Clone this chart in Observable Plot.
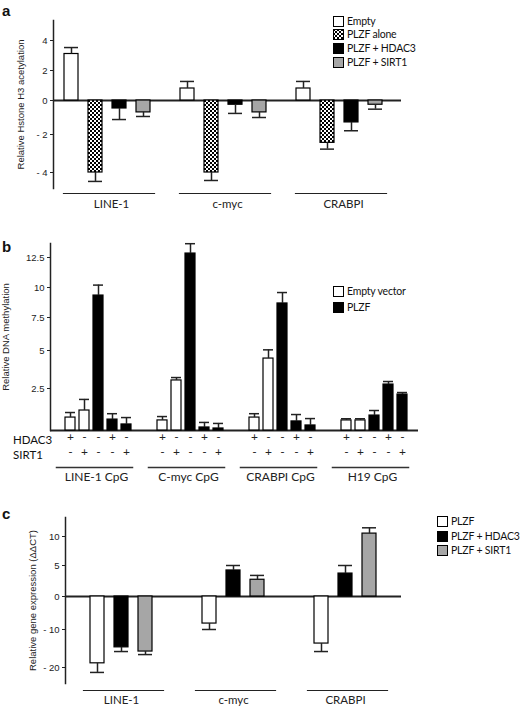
<!DOCTYPE html>
<html><head><meta charset="utf-8">
<script src="https://cdn.jsdelivr.net/npm/d3@7"></script>
<script src="https://cdn.jsdelivr.net/npm/@observablehq/plot@0.6"></script>
<style>
body{margin:0;background:#fff;}
#fig{position:relative;width:520px;height:709px;font-family:Lato,"Open Sans",sans-serif;color:#111;overflow:hidden;}
.panel{position:absolute;left:0;}
.abs{position:absolute;white-space:nowrap;z-index:2;line-height:1;}
.letter{font:bold 15px "Liberation Sans",Arial,sans-serif;}
.leg{font-size:10.5px;letter-spacing:-0.2px;display:flex;align-items:center;}
.rowlab{font-size:11.5px;}
</style>
</head><body>
<svg width="0" height="0" style="position:absolute"><defs>
<pattern id="checker" width="4" height="4" patternUnits="userSpaceOnUse">
<rect width="4" height="4" fill="#fff"/><rect width="2" height="2" fill="#000"/><rect x="2" y="2" width="2" height="2" fill="#000"/>
</pattern></defs></svg>
<div id="fig"></div>
<script>
// ---------- Panel a data ----------
const groupsA = ["LINE-1", "c-myc", "CRABPI"];
const seriesA = ["Empty", "PLZF alone", "PLZF + HDAC3", "PLZF + SIRT1"];
const valuesA = [[3.1, -4.0, -0.47, -0.7], [0.8, -4.0, -0.25, -0.7], [0.8, -2.44, -1.29, -0.25]];
const errEndA = [[3.53, -4.47, -1.12, -0.94], [1.27, -4.42, -0.76, -1.0], [1.27, -2.77, -1.78, -0.51]];
const ticksA = [-4, -2, 0, 2, 4];
const colorsA = ["#ffffff", "url(#checker)", "#000000", "#a6a6a6"];

// ---------- Panel b data ----------
const groupsB = ["LINE-1 CpG", "C-myc CpG", "CRABPI CpG", "H19 CpG"];
const seriesB = ["Empty vector", "PLZF"];
const condTypeB = ["Empty vector", "Empty vector", "PLZF", "PLZF", "PLZF"];
const hdac3B = ["+", "-", "-", "+", "-"];
const sirt1B = ["-", "+", "-", "-", "+"];
const valuesB = [[0.77, 1.19, 9.33, 0.65, 0.36], [0.6, 3.03, 12.83, 0.18, 0.12], [0.77, 4.47, 8.67, 0.54, 0.3], [0.6, 0.6, 0.89, 2.76, 2.14]];
const errEndB = [[1.07, 1.85, 10.2, 1.0, 0.77], [0.83, 3.22, 13.65, 0.48, 0.42], [1.0, 5.05, 9.58, 0.95, 0.71], [0.7, 0.7, 1.19, 2.96, 2.26]];
const ticksB = [2.5, 5, 7.5, 10, 12.5];
const colorsB = ["#ffffff", "#000000"];

// ---------- Panel c data ----------
const groupsC = ["LINE-1", "c-myc", "CRABPI"];
const seriesC = ["PLZF", "PLZF + HDAC3", "PLZF + SIRT1"];
const valuesC = [[-18.9, -14.7, -15.8], [-8.2, 4.2, 2.7], [-13.7, 3.7, 10.5]];
const errEndC = [[-21.3, -15.8, -16.6], [-10, 5.0, 3.4], [-15.8, 5.0, 11.5]];
const ticksC = [-20, -10, 0, 5, 10];
const colorsC = ["#ffffff", "#000000", "#a6a6a6"];

// The original axes have unevenly spaced ticks; these piecewise maps reproduce the tick layout
const warpA = d3.scaleLinear().domain([-4, -2, 0, 2, 4]).range([-72, -34, 0, 30, 60]);
const warpB = d3.scaleLinear().domain([0, 2.5, 5, 7.5, 10, 12.5]).range([0, 42, 80, 113, 143, 173]);
const warpC = d3.scaleLinear().domain([-20, -10, 0, 5, 10]).range([-71, -33, 0, 31, 60]);

// ---------- records ----------
const recA = [], recB = [], recC = [];
groupsA.forEach((g, i) => seriesA.forEach((s, j) => recA.push({group: g, series: s, value: valuesA[i][j], err: errEndA[i][j]})));
groupsB.forEach((g, i) => condTypeB.forEach((s, j) => recB.push({group: g, idx: j, series: s, hdac3: hdac3B[j], sirt1: sirt1B[j], value: valuesB[i][j], err: errEndB[i][j]})));
groupsC.forEach((g, i) => seriesC.forEach((s, j) => recC.push({group: g, series: s, value: valuesC[i][j], err: errEndC[i][j]})));

const fmtNeg = d => d < 0 ? "- " + Math.abs(d) : String(d);
const warpTickFormat = warp => v => fmtNeg(+warp.invert(v).toFixed(2));
const axisFont = "'Liberation Sans', Arial, sans-serif";
const fig = document.getElementById("fig");

function place(node, top) {
  const wrap = document.createElement("div");
  wrap.className = "panel";
  wrap.style.top = top + "px";
  wrap.appendChild(node);
  fig.appendChild(wrap);
}

function barMarks(rec, xField) {
  return [
    Plot.barY(rec, {fx: "group", x: xField, y1: 0, y2: "value", fill: "series", stroke: "#000", strokeWidth: 1.2}),
    Plot.ruleX(rec, {fx: "group", x: xField, y1: "value", y2: "err", strokeWidth: 1.5}),
    Plot.tickY(rec, {fx: "group", x: xField, y: "err", strokeWidth: 1.5})
  ];
}

// ---------- Panel a ----------
const plotA = Plot.plot({
  width: 520, height: 230,
  marginLeft: 53, marginRight: 119, marginTop: 20, marginBottom: 42,
  style: {fontFamily: axisFont, color: "#222"},
  fx: {domain: groupsA, paddingInner: 0, paddingOuter: 0},
  x: {domain: seriesA, paddingInner: 0.42, paddingOuter: 0.62, align: 0.37, axis: null},
  y: {transform: warpA, domain: [-88, 80]},
  color: {domain: seriesA, range: colorsA},
  marks: [
    Plot.ruleY([0], {strokeWidth: 2}),
    ...barMarks(recA, "series"),
    Plot.frame({anchor: "left", facetAnchor: "left", strokeWidth: 1.5}),
    Plot.frame({anchor: "bottom", dy: 5, insetLeft: 10, insetRight: 15, strokeWidth: 1.2}),
    Plot.axisY({ticks: ticksA.map(warpA), tickFormat: warpTickFormat(warpA), tickSize: 3, tickPadding: 3, fontSize: 9.5,
      label: "Relative Hstone H3 acetylation", labelAnchor: "center", labelArrow: "none", labelOffset: 36}),
    Plot.axisFx({anchor: "bottom", tickSize: 0, tickPadding: 11, fontSize: 11.5, fontFamily: "Lato, sans-serif", label: null})
  ]
});
place(plotA, 0);

// ---------- Panel b ----------
const plotB = Plot.plot({
  width: 520, height: 260,
  marginLeft: 50, marginRight: 102, marginTop: 13, marginBottom: 60,
  style: {fontFamily: axisFont, color: "#222"},
  fx: {domain: groupsB, paddingInner: 0, paddingOuter: 0},
  x: {domain: d3.range(condTypeB.length), paddingInner: 0.27, paddingOuter: 0.85, align: 0.6, axis: null},
  y: {transform: warpB, domain: [0, 187]},
  color: {domain: seriesB, range: colorsB},
  marks: [
    Plot.ruleY([0], {strokeWidth: 2}),
    ...barMarks(recB, "idx"),
    Plot.frame({anchor: "left", facetAnchor: "left", strokeWidth: 1.5}),
    Plot.frame({anchor: "bottom", dy: 37, insetLeft: 6, insetRight: 10, strokeWidth: 1.5, stroke: "#333"}),
    Plot.text(recB, {fx: "group", x: "idx", text: "hdac3", frameAnchor: "bottom", dy: 10, fontSize: 12, fontFamily: "Lato, sans-serif"}),
    Plot.text(recB, {fx: "group", x: "idx", text: "sirt1", frameAnchor: "bottom", dy: 25, fontSize: 12, fontFamily: "Lato, sans-serif"}),
    Plot.axisY({ticks: ticksB.map(warpB), tickFormat: warpTickFormat(warpB), tickSize: 3, tickPadding: 3, fontSize: 9.5,
      label: "Relative DNA methylation", labelAnchor: "center", labelArrow: "none", labelOffset: 48}),
    Plot.axisFx({anchor: "bottom", tickSize: 0, tickPadding: 42, fontSize: 12, fontFamily: "Lato, sans-serif", label: null})
  ]
});
place(plotB, 230);

// ---------- Panel c ----------
const plotC = Plot.plot({
  width: 520, height: 219,
  marginLeft: 65, marginRight: 119, marginTop: 27, marginBottom: 26,
  style: {fontFamily: axisFont, color: "#222"},
  fx: {domain: groupsC, paddingInner: 0, paddingOuter: 0},
  x: {domain: seriesC, paddingInner: 0.42, paddingOuter: 1.0, align: 0.5, axis: null},
  y: {transform: warpC, domain: [-87, 79]},
  color: {domain: seriesC, range: colorsC},
  marks: [
    Plot.ruleY([0], {strokeWidth: 2}),
    ...barMarks(recC, "series"),
    Plot.frame({anchor: "left", facetAnchor: "left", strokeWidth: 1.5}),
    Plot.frame({anchor: "bottom", dy: 7, insetLeft: 18, insetRight: 14, strokeWidth: 1.2}),
    Plot.axisY({ticks: ticksC.map(warpC), tickFormat: warpTickFormat(warpC), tickSize: 3, tickPadding: 3, fontSize: 9.5,
      label: "Relative gene expression (\u0394\u0394CT)", labelAnchor: "center", labelArrow: "none", labelOffset: 36}),
    Plot.axisFx({anchor: "bottom", tickSize: 0, tickPadding: 12, fontSize: 11.5, fontFamily: "Lato, sans-serif", label: null})
  ]
});
place(plotC, 490);

// ---------- HTML annotations: panel letters, row labels, legends ----------
function addText(txt, x, y, cls) {
  const d = document.createElement("div");
  d.className = "abs " + cls;
  d.style.left = x + "px"; d.style.top = y + "px";
  d.textContent = txt;
  fig.appendChild(d);
}
function addLegend(names, colors, x, ys) {
  names.forEach((n, i) => {
    const d = document.createElement("div");
    d.className = "abs leg";
    d.style.left = x + "px"; d.style.top = (ys[i] - 6) + "px";
    const sw = document.createElementNS("http://www.w3.org/2000/svg", "svg");
    sw.setAttribute("width", 11); sw.setAttribute("height", 11);
    sw.style.marginRight = "3px";
    const r = document.createElementNS("http://www.w3.org/2000/svg", "rect");
    r.setAttribute("x", 0.5); r.setAttribute("y", 0.5); r.setAttribute("width", 10); r.setAttribute("height", 10);
    r.setAttribute("fill", colors[i]); r.setAttribute("stroke", "#000");
    sw.appendChild(r);
    d.appendChild(sw);
    d.appendChild(document.createTextNode(n));
    fig.appendChild(d);
  });
}
addText("a", 2, 2, "letter");
addText("b", 2, 238, "letter");
addText("c", 2, 505, "letter");
addText("HDAC3", 13, 434, "rowlab");
addText("SIRT1", 13, 449, "rowlab");
addLegend(seriesA, colorsA, 333, [22, 35, 49, 63]);
addLegend(seriesB, colorsB, 333, [292, 308]);
addLegend(seriesC, colorsC, 437, [522, 537, 551]);
</script>
</body></html>
